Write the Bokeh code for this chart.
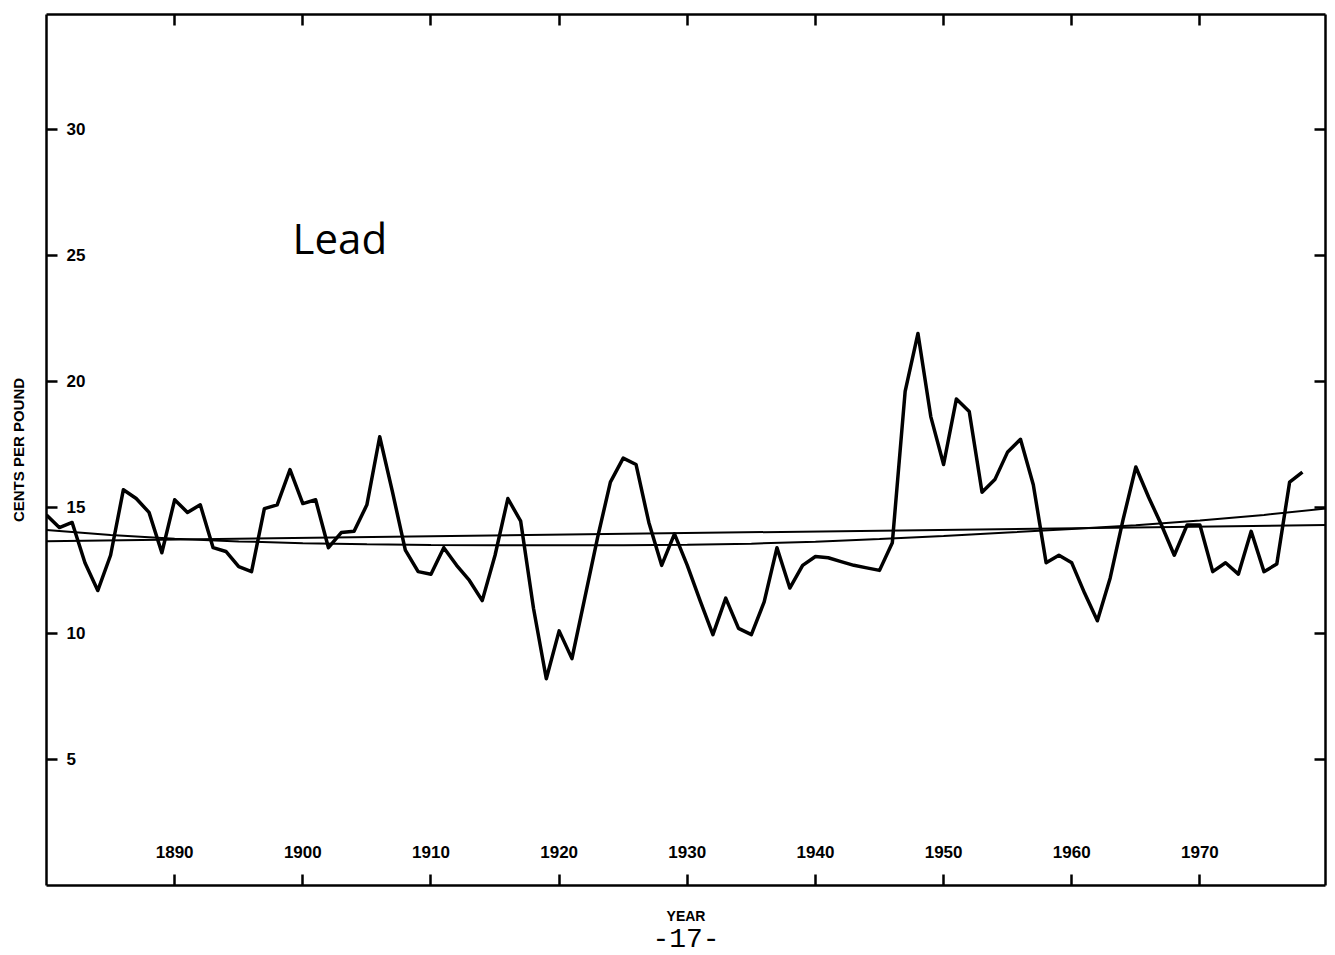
import math
from bokeh.plotting import figure
from bokeh.models import ColumnDataSource, Range1d, LinearAxis, FixedTicker, Label, Title
from bokeh.core.properties import value
from bokeh.embed import file_html
from bokeh.resources import INLINE

# ---- data ----
years = list(range(1880, 1979))
price = [
    14.7, 14.2, 14.4, 12.8, 11.7, 13.1, 15.7, 15.35, 14.8, 13.2,    # 1880-1889
    15.3, 14.8, 15.1, 13.4, 13.25, 12.65, 12.45, 14.95, 15.1, 16.5,  # 1890-1899
    15.15, 15.3, 13.4, 14.0, 14.05, 15.1, 17.8, 15.6, 13.3, 12.45,   # 1900-1909
    12.35, 13.4, 12.7, 12.1, 11.3, 13.1, 15.35, 14.45, 11.0, 8.2,    # 1910-1919
    10.1, 9.0, 11.4, 13.8, 16.0, 16.95, 16.7, 14.4, 12.7, 13.95,     # 1920-1929
    12.7, 11.3, 9.95, 11.4, 10.2, 9.95, 11.25, 13.4, 11.8, 12.7,     # 1930-1939
    13.05, 13.0, 12.85, 12.7, 12.6, 12.5, 13.6, 19.6, 21.9, 18.6,    # 1940-1949
    16.7, 19.3, 18.8, 15.6, 16.1, 17.2, 17.7, 15.9, 12.8, 13.1,      # 1950-1959
    12.8, 11.6, 10.5, 12.2, 14.5, 16.6, 15.4, 14.3, 13.1, 14.3,      # 1960-1969
    14.3, 12.45, 12.8, 12.35, 14.05, 12.45, 12.75, 16.0, 16.4,       # 1970-1978
]

trend_years = [1880, 1980]
trend_linear = [13.66, 14.30]

curve_years = [1880, 1885, 1890, 1895, 1900, 1905, 1910, 1915, 1920, 1925, 1930,
               1935, 1940, 1945, 1950, 1955, 1960, 1965, 1970, 1975, 1980]
curve_vals = [14.10, 13.90, 13.75, 13.65, 13.58, 13.54, 13.51, 13.50, 13.50, 13.50, 13.52,
              13.56, 13.64, 13.74, 13.86, 14.00, 14.14, 14.29, 14.48, 14.70, 14.96]

x_ticks = [1890, 1900, 1910, 1920, 1930, 1940, 1950, 1960, 1970]
x_tick_labels = ["1890", "1900", "1910", "1920", "1930", "1940", "1950", "1960", "1970"]
y_ticks = [5, 10, 15, 20, 25, 30]
y_tick_labels = ["5", "10", "15", "20", "25", "30"]

# ---- figure ----
p = figure(width=1335, height=955,
           x_range=Range1d(1880, 1979.8), y_range=Range1d(0, 34.55),
           output_backend="svg", toolbar_location=None,
           min_border_left=46, min_border_right=10, min_border_top=14, min_border_bottom=70,
           background_fill_color="white", border_fill_color="white")
p.grid.visible = False
p.outline_line_color = None

bottom_axis = p.below[0]
left_axis = p.left[0]


def style_axis(ax, ticks):
    ax.ticker = FixedTicker(ticks=ticks)
    ax.axis_line_color = "black"
    ax.axis_line_width = 2.5
    ax.major_tick_line_color = "black"
    ax.major_tick_line_width = 2.5
    ax.major_tick_in = 11
    ax.major_tick_out = 0
    ax.minor_tick_in = 0
    ax.minor_tick_out = 0
    ax.minor_tick_line_color = None
    ax.major_label_text_color = None
    ax.major_label_text_font_size = "0px"
    ax.major_label_standoff = 0


style_axis(bottom_axis, x_ticks)
style_axis(left_axis, y_ticks)
top_axis = LinearAxis()
right_axis = LinearAxis()
style_axis(top_axis, x_ticks)
style_axis(right_axis, y_ticks)
p.add_layout(top_axis, "above")
p.add_layout(right_axis, "right")

# axis titles
bottom_axis.axis_label = "YEAR"
bottom_axis.axis_label_standoff = 22
bottom_axis.axis_label_text_font = "Liberation Sans"
bottom_axis.axis_label_text_font_style = "bold"
bottom_axis.axis_label_text_font_size = "14px"
bottom_axis.axis_label_text_color = "black"

left_axis.axis_label = "CENTS PER POUND"
left_axis.axis_label_standoff = 20
left_axis.axis_label_text_font = "Liberation Sans"
left_axis.axis_label_text_font_style = "bold"
left_axis.axis_label_text_font_size = "15px"
left_axis.axis_label_text_color = "black"

p.add_layout(Title(text="-17-", align="center", text_font="Liberation Mono",
                   text_font_style="normal", text_font_size="28px", text_color="black",
                   standoff=0, offset=-5), "below")

# trend lines
p.line(trend_years, trend_linear, line_color="black", line_width=2)
p.line(curve_years, curve_vals, line_color="black", line_width=2)

# price series
src = ColumnDataSource(dict(year=years, price=price))
p.line(x="year", y="price", source=src, line_color="black", line_width=3.5, line_join="round")

# tick labels inside the frame
xl = ColumnDataSource(dict(x=x_ticks, y=[0] * len(x_ticks), label=x_tick_labels))
p.text(x="x", y="y", text="label", source=xl, y_offset=-34,
       text_align="center", text_baseline="middle",
       text_font=value("Liberation Sans"), text_font_style="bold",
       text_font_size="17px", text_color="black")
yl = ColumnDataSource(dict(x=[1880] * len(y_ticks), y=y_ticks, label=y_tick_labels))
p.text(x="x", y="y", text="label", source=yl, x_offset=20,
       text_align="left", text_baseline="middle",
       text_font=value("Liberation Sans"), text_font_style="bold",
       text_font_size="17px", text_color="black")

# series name
p.add_layout(Label(x=1899.2, y=25.7, text="Lead", text_font="Open Sans",
                   text_font_size="42px", text_align="left", text_baseline="alphabetic",
                   text_color="black"))

open("out.html", "w").write(file_html(p, INLINE))
